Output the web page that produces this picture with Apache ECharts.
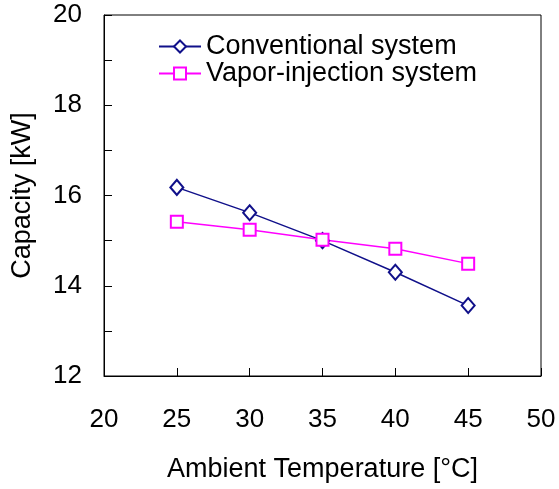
<!DOCTYPE html>
<html>
<head>
<meta charset="utf-8">
<script src="https://cdn.jsdelivr.net/npm/echarts@6/dist/echarts.min.js"></script>
<style>html,body{margin:0;padding:0;background:#fff;}#c{width:559px;height:489px;}</style>
</head>
<body>
<div id="c"></div>
<script>
const temps = [25, 30, 35, 40, 45];
const conventional = [16.18, 15.62, 15.00, 14.30, 13.56];
const vaporInjection = [15.42, 15.24, 15.02, 14.82, 14.49];
const seriesNames = ['Conventional system', 'Vapor-injection system'];
const xTitle = 'Ambient Temperature [°C]';
const yTitle = 'Capacity [kW]';

const font = 'Liberation Sans, Arial, sans-serif';
const chart = echarts.init(document.getElementById('c'), null, {renderer: 'canvas'});
chart.setOption({
  animation: false,
  backgroundColor: '#fff',
  grid: {left: 104, right: 18, top: 15, bottom: 113, show: true, borderColor: '#000', borderWidth: 1, containLabel: false, outerBoundsMode: 'none'},
  legend: {
    left: 158, top: 33, orient: 'vertical', padding: 0,
    itemWidth: 42, itemHeight: 15, itemGap: 0,
    textStyle: {fontFamily: font, fontSize: 27, lineHeight: 27, color: '#000'},
    data: seriesNames
  },
  xAxis: {
    type: 'value', min: 20, max: 50, interval: 5,
    name: xTitle, nameLocation: 'middle', nameGap: 80,
    nameTextStyle: {fontFamily: font, fontSize: 27, color: '#000'},
    axisLine: {show: true, lineStyle: {color: '#000', width: 1}},
    axisTick: {show: true, inside: true, length: 8, lineStyle: {color: '#000'}},
    axisLabel: {fontFamily: font, fontSize: 26, color: '#000', margin: 31},
    splitLine: {show: false}
  },
  yAxis: {
    type: 'value', min: 12, max: 20, interval: 2,
    name: yTitle, nameLocation: 'middle', nameGap: 68,
    nameTextStyle: {fontFamily: font, fontSize: 27, color: '#000'},
    axisLine: {show: true, lineStyle: {color: '#000', width: 1}},
    axisTick: {show: true, inside: true, length: 8, lineStyle: {color: '#000'}},
    minorTick: {show: true, splitNumber: 2, length: 8, lineStyle: {color: '#000'}},
    axisLabel: {fontFamily: font, fontSize: 26, color: '#000', margin: 22},
    splitLine: {show: false}
  },
  series: [
    {
      name: seriesNames[0], type: 'line',
      data: temps.map((t, i) => [t, conventional[i]]),
      symbol: 'emptyDiamond', symbolSize: [13, 15],
      lineStyle: {color: '#10108a', width: 1.5},
      itemStyle: {color: '#10108a', borderWidth: 1.5}
    },
    {
      name: seriesNames[1], type: 'line',
      data: temps.map((t, i) => [t, vaporInjection[i]]),
      symbol: 'emptyRect', symbolSize: 12,
      lineStyle: {color: '#ff00ff', width: 1.5},
      itemStyle: {color: '#ff00ff', borderWidth: 1.5}
    }
  ]
});
</script>
</body>
</html>
